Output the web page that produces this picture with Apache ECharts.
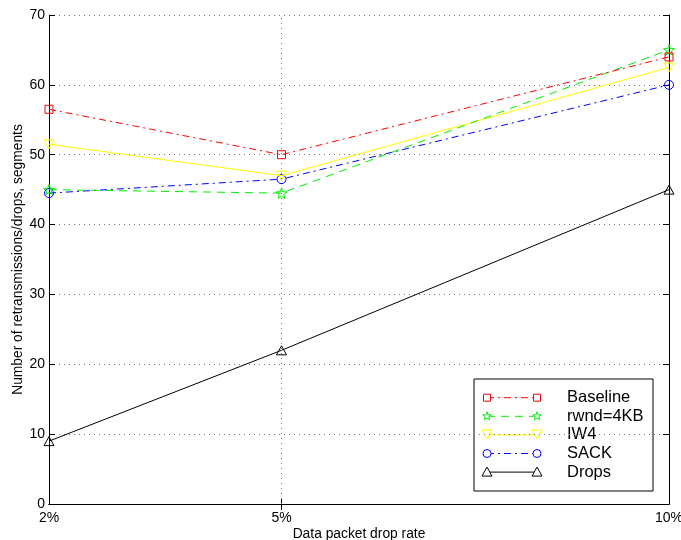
<!DOCTYPE html>
<html>
<head>
<meta charset="utf-8">
<script src="https://cdn.jsdelivr.net/npm/echarts@6/dist/echarts.min.js"></script>
<style>
  html, body { margin: 0; padding: 0; background: #fff; }
  #chart { width: 681px; height: 540px; }
</style>
</head>
<body>
<div id="chart"></div>
<script>
// Drop rates (percent) on the horizontal axis
const dropRates = [2, 5, 10];
const xTickValues = [2, 5, 10];

// Retransmissions / drops per configuration, in segments
const baseline = [56.5, 50, 64];
const rwnd4kb = [45, 44.5, 65];
const iw4 = [51.5, 47, 62.5];
const sack = [44.5, 46.5, 60];
const drops = [9, 22, 45];

const seriesNames = ['Baseline', 'rwnd=4KB', 'IW4', 'SACK', 'Drops'];

const FONT = '"Liberation Sans", Arial, sans-serif';

// Marker outlines in a 10x10 box
const STAR_PTS = [[5,0],[6.18,3.38],[9.76,3.45],[6.9,5.62],[7.94,9.05],[5,7],[2.06,9.05],[3.1,5.62],[0.24,3.45],[3.82,3.38]];
const TRI_DOWN_PTS = [[0,0],[10,0],[5,9]];
const TRI_UP_PTS = [[5,0],[10,9],[0,9]];
const toPath = pts => 'path://' + pts.map((p, k) => (k ? 'L' : 'M') + p[0] + ',' + p[1]).join(' ') + ' Z';

const styles = [
  { color: '#ff0000', dash: [7, 4, 2, 4], symbol: 'rect', size: 8, legendSize: 7 },
  { color: '#00f000', dash: [8, 6], symbol: STAR_PTS, size: 11, legendSize: 9 },
  { color: '#ffff00', dash: 'solid', symbol: TRI_DOWN_PTS, size: 10, legendSize: 10 },
  { color: '#0000ff', dash: [7, 4, 2, 4], symbol: 'circle', size: 9, legendSize: 8 },
  { color: '#000000', dash: 'solid', symbol: TRI_UP_PTS, size: 10, legendSize: 10 }
];
const valueSets = [baseline, rwnd4kb, iw4, sack, drops];

const gridLine = { color: '#777', type: [1, 4], width: 1 };

const series = seriesNames.map((name, i) => {
  const s = styles[i];
  const out = {
    name: name,
    type: 'line',
    data: dropRates.map((x, k) => [x, valueSets[i][k]]),
    symbol: Array.isArray(s.symbol) ? toPath(s.symbol) : s.symbol,
    symbolSize: s.size,
    symbolKeepAspect: true,
    showAllSymbol: true,
    lineStyle: { color: s.color, width: 1, type: s.dash },
    itemStyle: { color: 'rgba(0,0,0,0)', borderColor: s.color, borderWidth: 1 },
    emphasis: { disabled: true },
    animation: false,
    z: 10 - i
  };
  if (i === seriesNames.length - 1) {
    // vertical dotted grid line at the middle rate
    out.markLine = {
      silent: true,
      symbol: 'none',
      label: { show: false },
      lineStyle: gridLine,
      data: [{ xAxis: dropRates[1] }],
      animation: false
    };
  }
  return out;
});

// Legend box drawn as graphics: line sample with a marker at each end
const legendLeft = 474, legendTop = 379, legendW = 179, legendH = 112;
const rowGap = 18.6, rowTop = 397.7, x1 = 487, x2 = 537, textX = 567;
const legendChildren = [{
  type: 'rect',
  shape: { x: legendLeft, y: legendTop, width: legendW, height: legendH },
  style: { fill: '#fff', stroke: '#000', lineWidth: 1 }
}];
function markerShape(sym, cx, cy, size) {
  if (sym === 'rect') {
    return { type: 'rect', shape: { x: cx - size / 2, y: cy - size / 2, width: size, height: size } };
  }
  if (sym === 'circle') {
    return { type: 'circle', shape: { cx: cx, cy: cy, r: size / 2 } };
  }
  const k = size / 10;
  return {
    type: 'polygon',
    shape: { points: sym.map(p => [cx - size / 2 + p[0] * k, cy - size / 2 + p[1] * k]) }
  };
}
seriesNames.forEach((name, i) => {
  const s = styles[i];
  const y = rowTop + i * rowGap;
  legendChildren.push({
    type: 'line',
    shape: { x1: x1, y1: y, x2: x2, y2: y },
    style: { stroke: s.color, lineWidth: 1, lineDash: s.dash === 'solid' ? null : s.dash }
  });
  [x1, x2].forEach(cx => {
    const m = markerShape(s.symbol, cx, y, s.legendSize);
    m.style = { fill: '#fff', stroke: s.color, lineWidth: 1 };
    legendChildren.push(m);
  });
  legendChildren.push({
    type: 'text',
    style: { x: textX, y: y, text: name, fill: '#000', font: '16.5px ' + FONT, verticalAlign: 'middle' }
  });
});

const chart = echarts.init(document.getElementById('chart'), null, { renderer: 'canvas' });
chart.setOption({
  backgroundColor: '#fff',
  animation: false,
  grid: { left: 49, right: 12, top: 15, bottom: 36, containLabel: false, outerBoundsMode: 'none' },
  xAxis: [{
    type: 'value',
    min: 2,
    max: 10,
    position: 'bottom',
    name: 'Data packet drop rate',
    nameLocation: 'middle',
    nameGap: 23,
    nameMoveOverlap: false,
    nameTextStyle: { fontFamily: FONT, fontSize: 13.8, color: '#000' },
    axisLine: { show: true, lineStyle: { color: '#000', width: 1 } },
    axisTick: { show: true, inside: true, length: 6, customValues: xTickValues.slice(1, 2), lineStyle: { color: '#000' } },
    axisLabel: {
      customValues: xTickValues,
      formatter: v => v + '%',
      fontFamily: FONT, fontSize: 14, color: '#000', margin: 7
    },
    splitLine: { show: false }
  }, {
    type: 'value',
    min: 2,
    max: 10,
    position: 'top',
    axisLine: { show: true, lineStyle: { color: '#000', width: 1 } },
    axisTick: { show: true, inside: true, length: 6, customValues: xTickValues.slice(1, 2), lineStyle: { color: '#000' } },
    axisLabel: { show: false },
    splitLine: { show: false }
  }],
  yAxis: [{
    type: 'value',
    min: 0,
    max: 70,
    interval: 10,
    position: 'left',
    name: 'Number of retransmissions/drops, segments',
    nameLocation: 'middle',
    nameGap: 24,
    nameMoveOverlap: false,
    nameTextStyle: { fontFamily: FONT, fontSize: 13.8, color: '#000' },
    axisLine: { show: true, lineStyle: { color: '#000', width: 1 } },
    axisTick: { show: true, inside: true, length: 6, lineStyle: { color: '#000' } },
    axisLabel: { fontFamily: FONT, fontSize: 14, color: '#000', margin: 4 },
    splitLine: { show: true, lineStyle: gridLine }
  }, {
    type: 'value',
    min: 0,
    max: 70,
    interval: 10,
    position: 'right',
    axisLine: { show: true, lineStyle: { color: '#000', width: 1 } },
    axisTick: { show: true, inside: true, length: 6, lineStyle: { color: '#000' } },
    axisLabel: { show: false },
    splitLine: { show: false }
  }],
  series: series,
  graphic: [{ type: 'group', z: 100, children: legendChildren }]
});
</script>
</body>
</html>
